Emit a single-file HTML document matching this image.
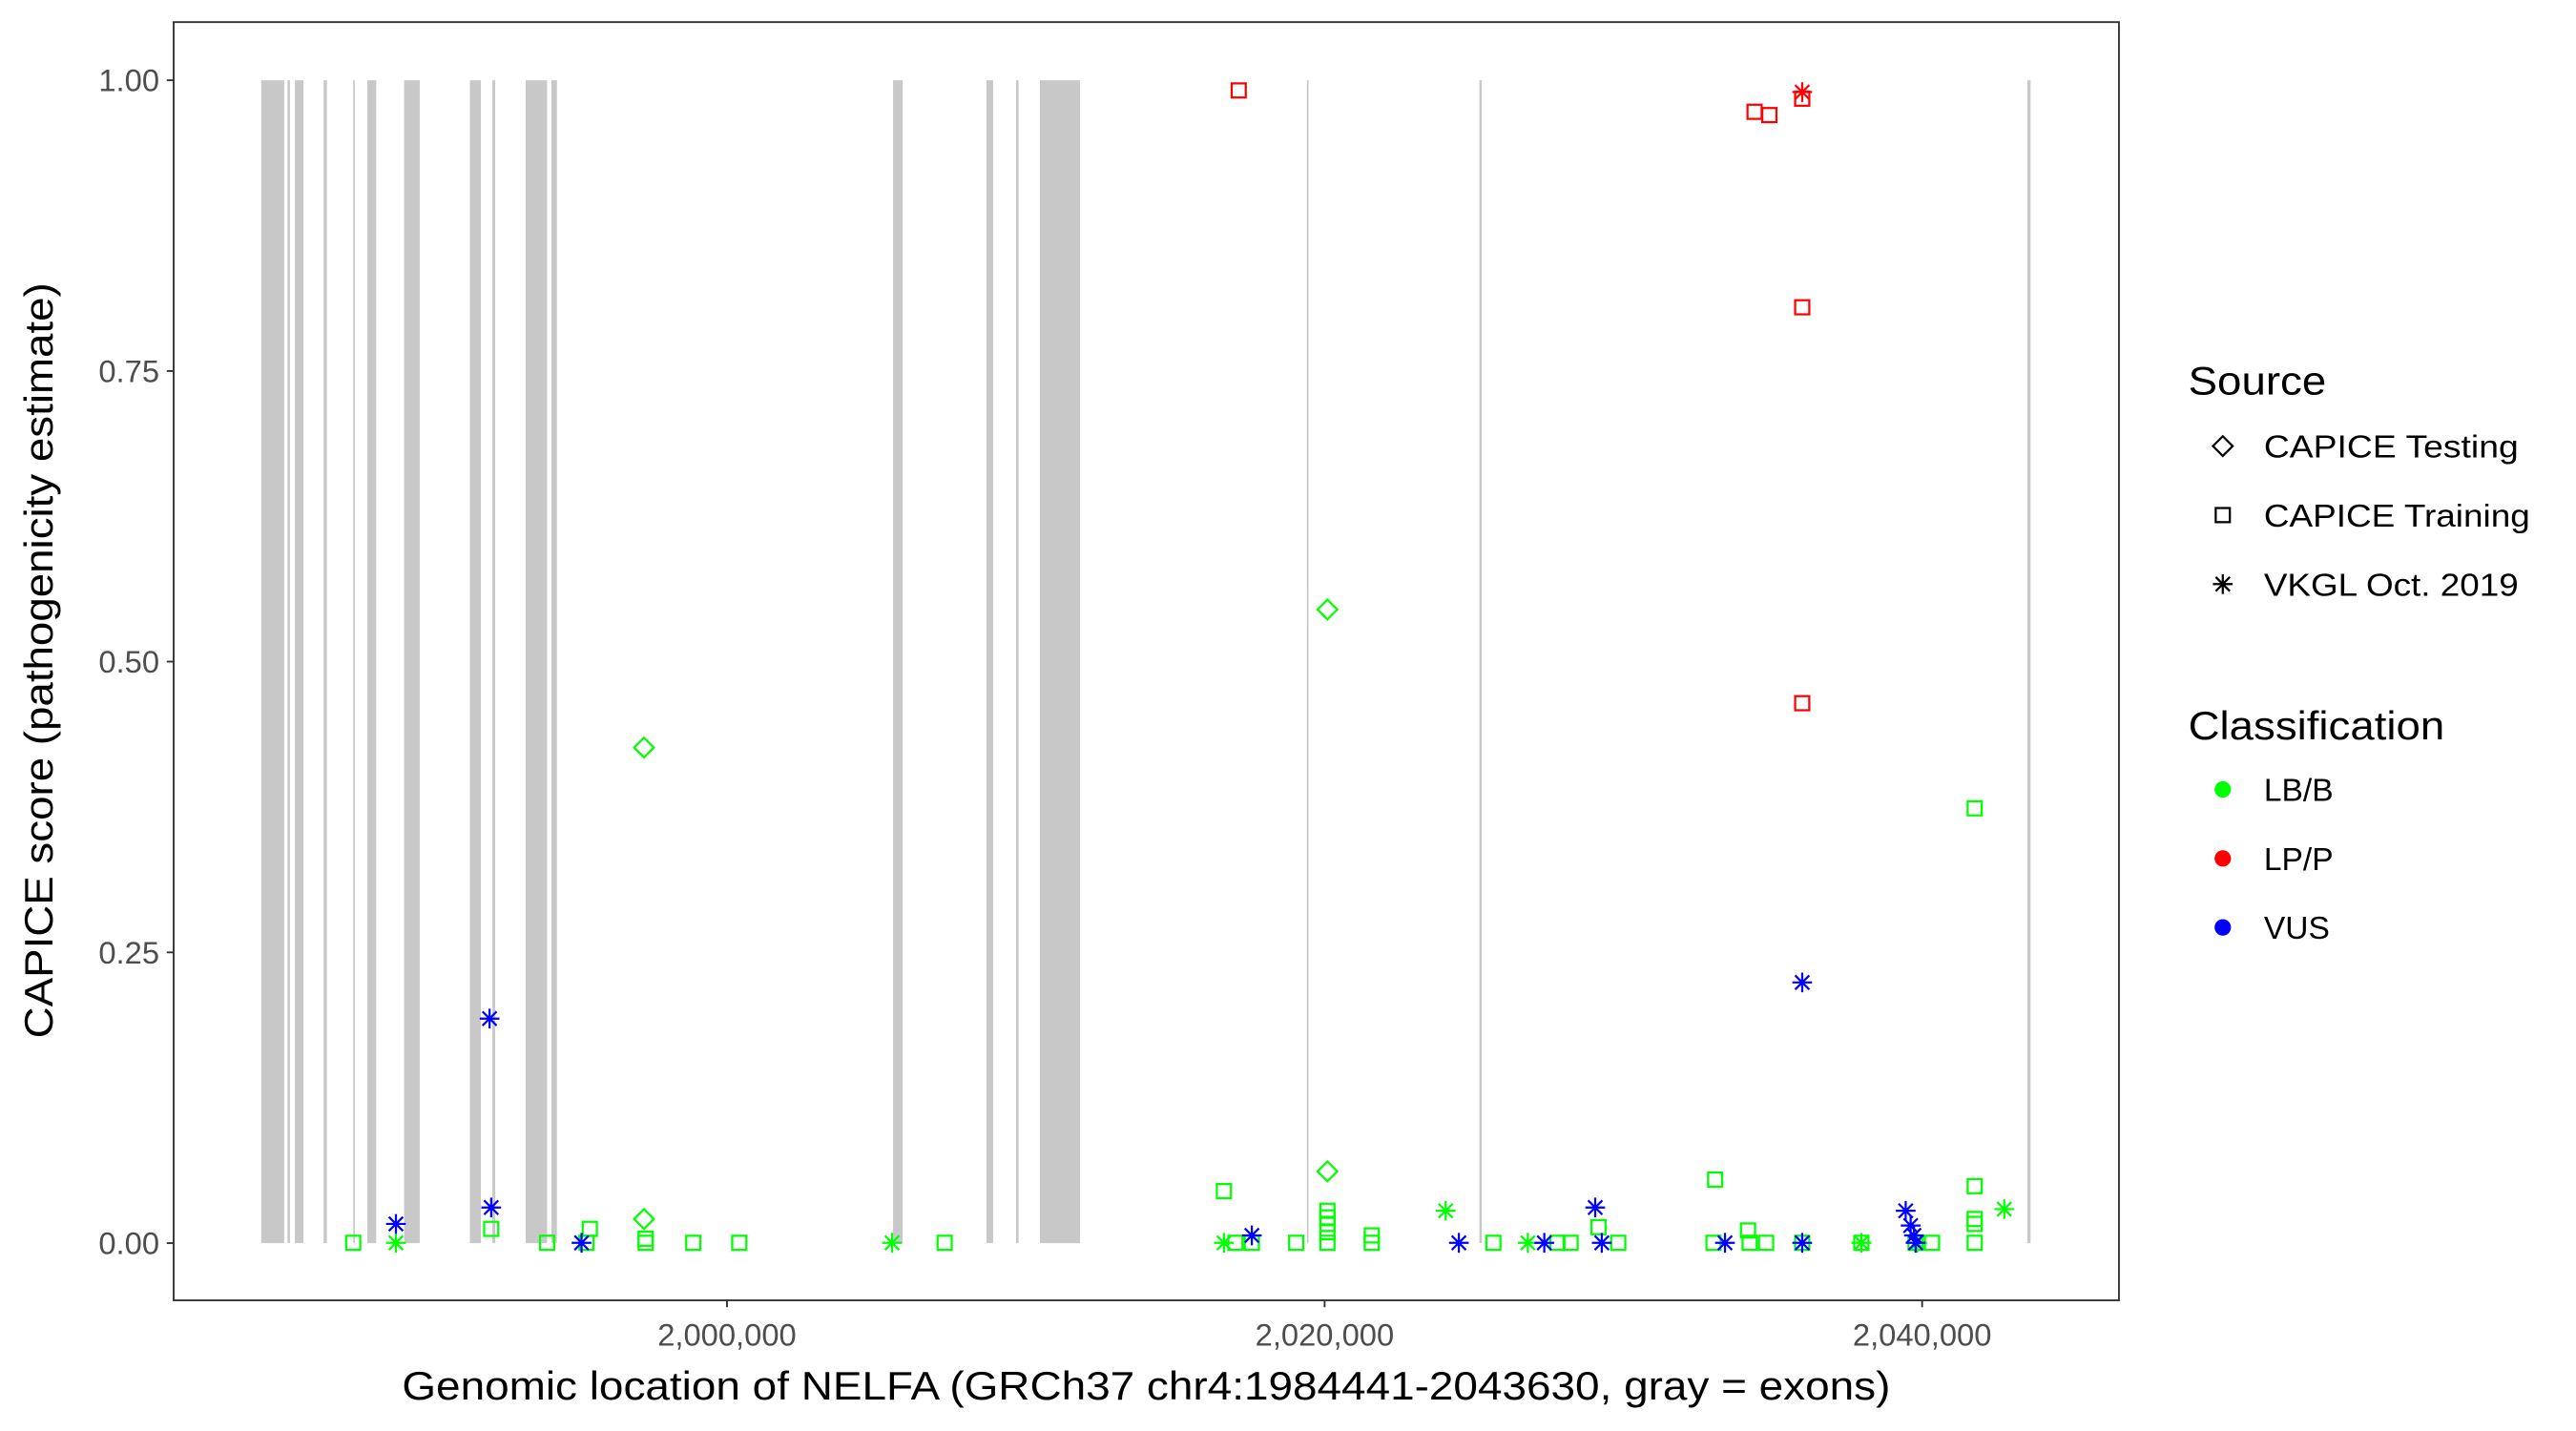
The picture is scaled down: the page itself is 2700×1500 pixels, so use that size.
<!DOCTYPE html>
<html><head><meta charset="utf-8"><style>html,body{margin:0;padding:0;background:#fff}svg{display:block}</style></head>
<body>
<svg id="s" width="2700" height="1500" viewBox="0 0 1568 871" xmlns="http://www.w3.org/2000/svg" font-family="'Liberation Sans', Arial, sans-serif">
<rect x="0" y="0" width="1568" height="871" fill="#fff"/>
<g id="ex" fill="#c8c8c8"></g>
<g id="pts" fill="none" stroke-width="1.3"></g>
<rect x="105.7" y="13.4" width="1184.1" height="778.1" fill="none" stroke="#333" stroke-width="1.1"/>
<g stroke="#333" stroke-width="1.1">
<line x1="101.5" x2="105.7" y1="48.8" y2="48.8"/><line x1="101.5" x2="105.7" y1="225.8" y2="225.8"/>
<line x1="101.5" x2="105.7" y1="402.7" y2="402.7"/><line x1="101.5" x2="105.7" y1="579.7" y2="579.7"/>
<line x1="101.5" x2="105.7" y1="756.7" y2="756.7"/>
<line x1="442.5" x2="442.5" y1="791.5" y2="795.7"/><line x1="806.3" x2="806.3" y1="791.5" y2="795.7"/>
<line x1="1170" x2="1170" y1="791.5" y2="795.7"/>
</g>
<g fill="#4d4d4d" font-size="19" text-anchor="end">
<text x="97" y="55.5">1.00</text><text x="97" y="232.5">0.75</text><text x="97" y="409.4">0.50</text>
<text x="97" y="586.4">0.25</text><text x="97" y="763.4">0.00</text>
</g>
<g fill="#4d4d4d" font-size="19" text-anchor="middle">
<text x="442.5" y="819">2,000,000</text><text x="806.3" y="819">2,020,000</text><text x="1170" y="819">2,040,000</text>
</g>
<text x="697.7" y="852" font-size="24" text-anchor="middle" fill="#000" textLength="906" lengthAdjust="spacingAndGlyphs">Genomic location of NELFA (GRCh37 chr4:1984441-2043630, gray = exons)</text>
<text transform="translate(32,402) rotate(-90)" font-size="24" text-anchor="middle" fill="#000" textLength="460" lengthAdjust="spacingAndGlyphs">CAPICE score (pathogenicity estimate)</text>
<g font-size="24" fill="#000"><text x="1332" y="240" textLength="84" lengthAdjust="spacingAndGlyphs">Source</text><text x="1332" y="450" textLength="156" lengthAdjust="spacingAndGlyphs">Classification</text></g>
<g font-size="19.5" fill="#000">
<text x="1378" y="278.5" textLength="155" lengthAdjust="spacingAndGlyphs">CAPICE Testing</text><text x="1378" y="320.5" textLength="162" lengthAdjust="spacingAndGlyphs">CAPICE Training</text><text x="1378" y="362.5" textLength="155" lengthAdjust="spacingAndGlyphs">VKGL Oct. 2019</text>
<text x="1378" y="487.5">LB/B</text><text x="1378" y="529.5">LP/P</text><text x="1378" y="571.5">VUS</text>
</g>
<g id="leg" fill="none" stroke="#000" stroke-width="1.3"></g>
<circle cx="1353" cy="480.5" r="5" fill="#00ff00"/><circle cx="1353" cy="522.5" r="5" fill="#ff0000"/><circle cx="1353" cy="564.5" r="5" fill="#0000ff"/>
</svg>
<script>
var NS="http://www.w3.org/2000/svg";
var ex=document.getElementById('ex');
[[159,173],[175,176.5],[179.5,184.7],[197,199],[215,216],[223.6,229],[246,255.5],[286,292.7],[299.7,301.4],[320,333],[335.7,339],[543.6,549.4],[600.5,604.5],[618.5,620],[633,657.4],[795.5,796.5],[900.5,902],[1234,1236]].forEach(function(r){
 var e=document.createElementNS(NS,'rect');e.setAttribute('x',r[0]);e.setAttribute('width',r[1]-r[0]);e.setAttribute('y',48.8);e.setAttribute('height',707.9);ex.appendChild(e);});
function mk(g,t,x,y,c){
 var e;
 if(t=='s'){e=document.createElementNS(NS,'rect');e.setAttribute('x',x-4.3);e.setAttribute('y',y-4.3);e.setAttribute('width',8.6);e.setAttribute('height',8.6);}
 else if(t=='d'){e=document.createElementNS(NS,'path');e.setAttribute('d','M'+x+' '+(y-6)+'L'+(x+6)+' '+y+'L'+x+' '+(y+6)+'L'+(x-6)+' '+y+'Z');}
 else {e=document.createElementNS(NS,'path');e.setAttribute('d','M'+(x-6)+' '+y+'H'+(x+6)+'M'+x+' '+(y-6)+'V'+(y+6)+'M'+(x-4.3)+' '+(y-4.3)+'L'+(x+4.3)+' '+(y+4.3)+'M'+(x-4.3)+' '+(y+4.3)+'L'+(x+4.3)+' '+(y-4.3));}
 e.setAttribute('stroke',c);g.appendChild(e);}
var P=document.getElementById('pts');
var G='#00ff00',R='#ff0000',B='#0000ff';
[215,333,357,393,422,450,575,789,808,835,909,948,956,985,1043,1065,1075,1097,1133,1166,1176,1202,752,762].forEach(function(x){mk(P,'s',x,756.5,G);});
[[299,748],[359,748],[393,754],[745,725],[808,737],[808,741],[808,745],[808,750],[835,752],[973,747],[1044,718],[1064,749],[1202,742],[1202,745],[1202,722],[1202,492]].forEach(function(p){mk(P,'s',p[0],p[1],G);});
[[392,455],[392,742],[808,371],[808,713]].forEach(function(p){mk(P,'d',p[0],p[1],G);});
[[241,756.5],[543,756.5],[745,756.5],[880,737],[930,756.5],[1133,756.5],[1167,756.5],[1220,736]].forEach(function(p){mk(P,'a',p[0],p[1],G);});
[[241,745],[298,620],[299,735],[354,756.5],[762,752],[888,756.5],[940,756.5],[971,735],[975,756.5],[1050,756.5],[1097,598],[1097,756.5],[1160,737],[1163,746],[1165,752],[1166,756.5]].forEach(function(p){mk(P,'a',p[0],p[1],B);});
[[754,55],[1068,68],[1077,70],[1097,60],[1097,187],[1097,428]].forEach(function(p){mk(P,'s',p[0],p[1],R);});
mk(P,'a',1097,56,R);
var L=document.getElementById('leg');
mk(L,'d',1353,271.5,'#000');mk(L,'s',1353,313.5,'#000');mk(L,'a',1353,355.5,'#000');
</script>
</body></html>
